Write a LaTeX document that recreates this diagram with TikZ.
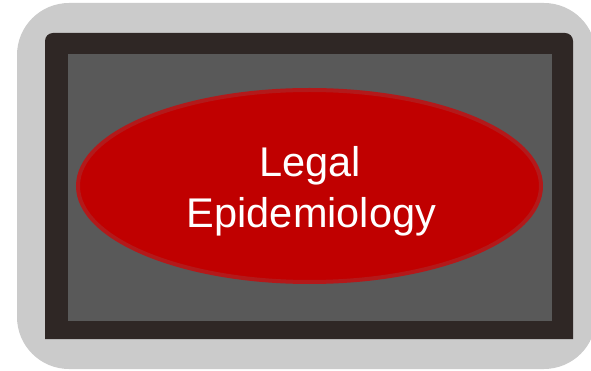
\documentclass[tikz,border=0pt]{standalone}
\usepackage{fontspec}
\setmainfont{Liberation Sans}
\usetikzlibrary{shapes.geometric}
\definecolor{outergray}{HTML}{CBCBCB}
\definecolor{framedark}{HTML}{2F2725}
\definecolor{innergray}{HTML}{595959}
\definecolor{ellred}{HTML}{C00000}
\definecolor{ellborder}{HTML}{B3191A}
\tikzset{
  blob/.style={ellipse, fill=ellred, draw=ellborder, line width=4pt,
    minimum width=463pt, minimum height=192pt, inner sep=0pt},
  label/.style={text=white, font=\fontsize{41.5}{51}\selectfont, inner sep=0pt, anchor=base}
}
\begin{document}
\begin{tikzpicture}[x=1pt,y=-1pt]
\useasboundingbox (0,0) rectangle (591,371);
\fill[outergray, rounded corners=52pt] (17,3) rectangle (596,369);
\fill[framedark] (45,339) -- (45,40) [rounded corners=8pt] -- (45,33) -- (573,33) [sharp corners] -- (573,339) -- cycle;
\fill[innergray] (68,54) rectangle (552,321);
\node[blob] (ell) at (309.5,186) {};
\node[label] (l1) at (310,176.7) {Legal};
\node[label] (l2) at (311.5,227.7) {Epidemiology};
\end{tikzpicture}
\end{document}
